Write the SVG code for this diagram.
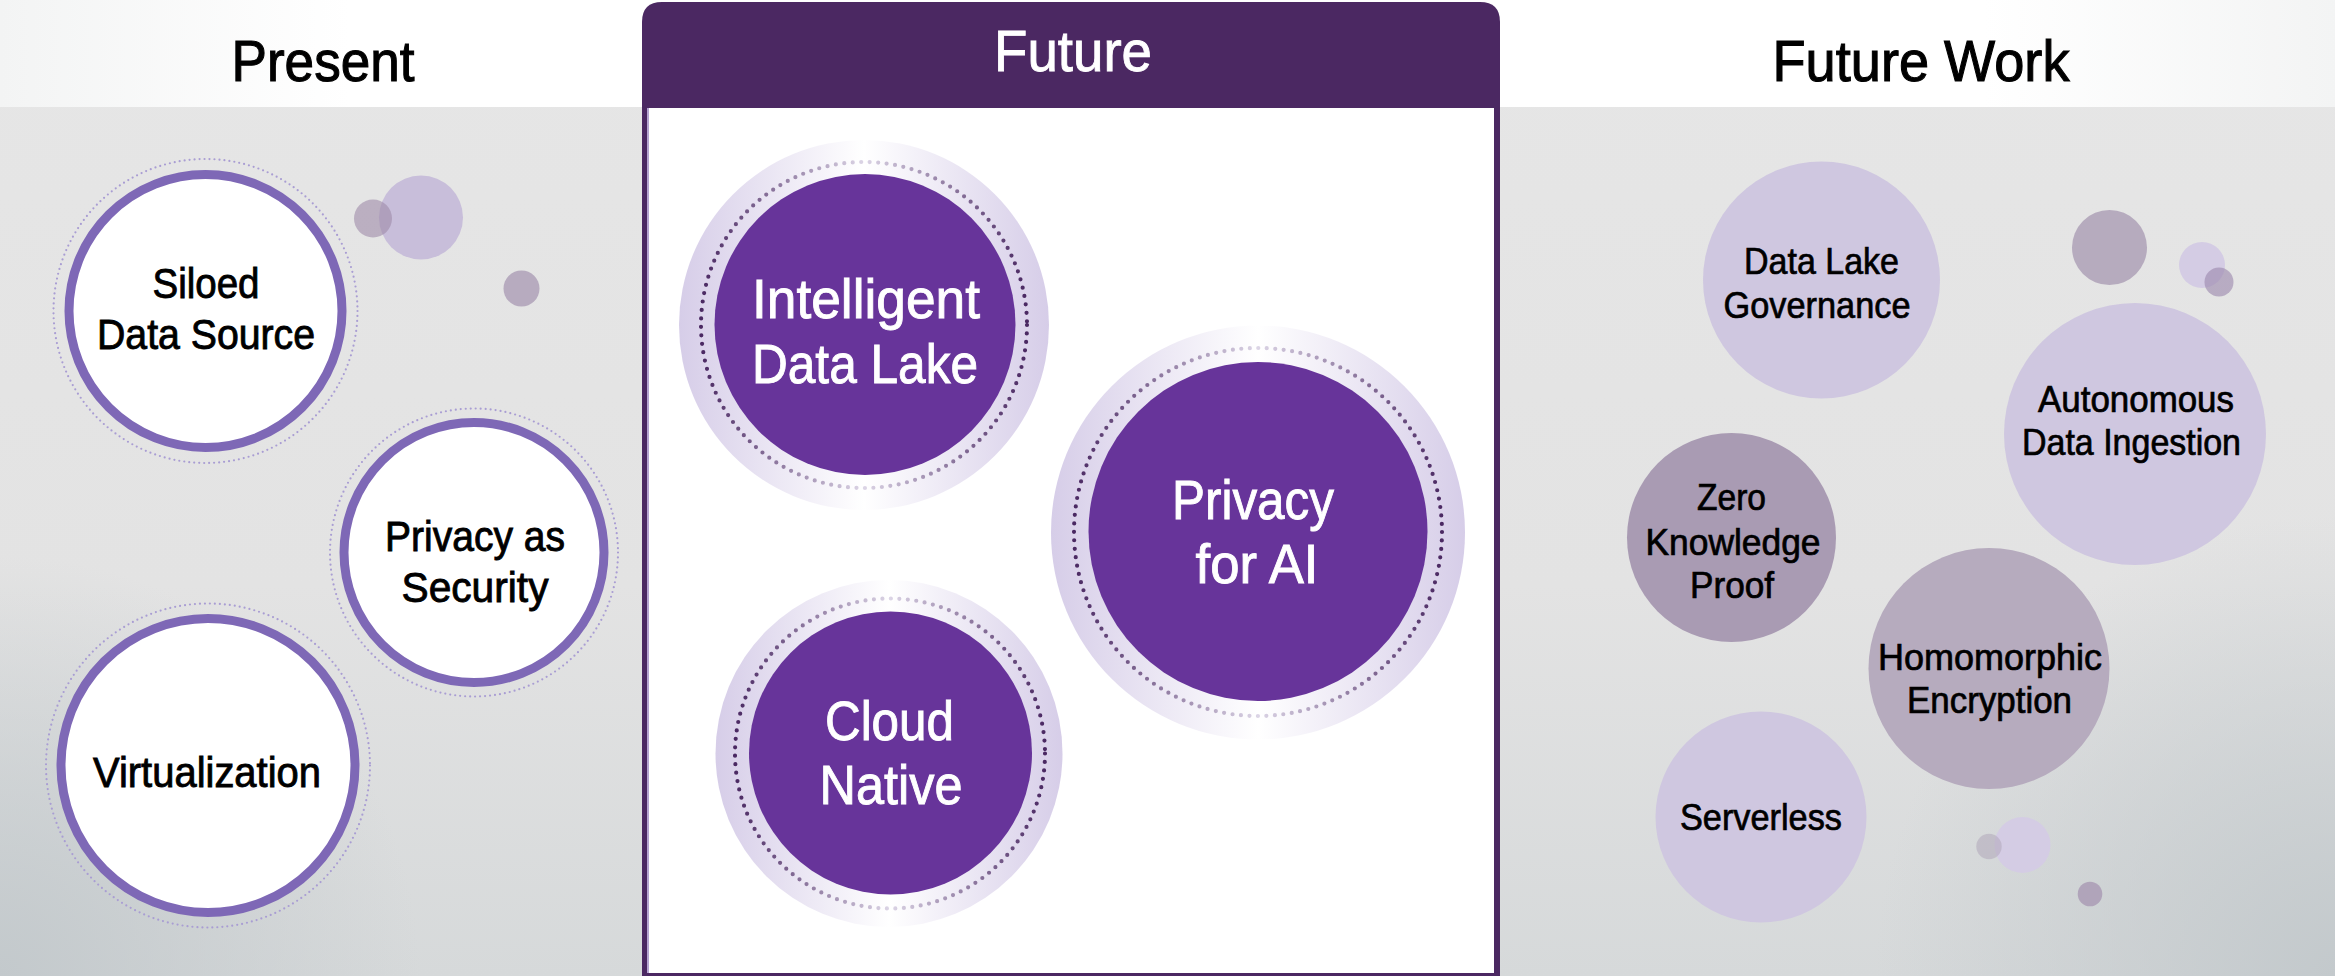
<svg xmlns="http://www.w3.org/2000/svg" width="2335" height="976" viewBox="0 0 2335 976">
<defs>
<linearGradient id="bg" x1="0" y1="0" x2="0" y2="1">
<stop offset="0" stop-color="#E6E6E6"/>
<stop offset="0.6" stop-color="#E3E3E3"/>
<stop offset="1" stop-color="#D6D9DA"/>
</linearGradient>
<radialGradient id="cornerL" cx="0" cy="976" r="420" gradientUnits="userSpaceOnUse">
<stop offset="0" stop-color="#C3C9CC" stop-opacity="1"/>
<stop offset="1" stop-color="#C3C9CC" stop-opacity="0"/>
</radialGradient>
<radialGradient id="cornerR" cx="2335" cy="976" r="460" gradientUnits="userSpaceOnUse">
<stop offset="0" stop-color="#C3C9CC" stop-opacity="1"/>
<stop offset="1" stop-color="#C3C9CC" stop-opacity="0"/>
</radialGradient>
<linearGradient id="hdr" x1="0" y1="0" x2="1" y2="0">
<stop offset="0" stop-color="#F3F4F4"/>
<stop offset="0.15" stop-color="#FFFFFF"/>
<stop offset="0.85" stop-color="#FFFFFF"/>
<stop offset="1" stop-color="#F3F4F4"/>
</linearGradient>
<linearGradient id="ring" x1="0" y1="0" x2="1" y2="0">
<stop offset="0" stop-color="#D6CDE8"/>
<stop offset="0.5" stop-color="#FFFFFF"/>
<stop offset="1" stop-color="#D6CDE8"/>
</linearGradient>
<linearGradient id="dots" x1="0" y1="0" x2="1" y2="0">
<stop offset="0" stop-color="#4A2862"/>
<stop offset="0.5" stop-color="#DCD5E6"/>
<stop offset="1" stop-color="#4A2862"/>
</linearGradient>
<style>
.t{font-family:"Liberation Sans",Arial,sans-serif;text-anchor:middle}
.title{font-size:58px;fill:#000;stroke:#000;stroke-width:1.1}
.ftitle{font-size:58px;fill:#FFF;stroke:#FFF;stroke-width:0.9}
.pl{font-size:43px;fill:#000;stroke:#000;stroke-width:0.9}
.fl{font-size:55px;fill:#FFF;stroke:#FFF;stroke-width:0.9}
.fw{font-size:36px;fill:#000;stroke:#000;stroke-width:0.7}
.pring{fill:#FFF;stroke:#7E68B6;stroke-width:9}
.pdot{fill:none;stroke:#A99DD3;stroke-width:2.2;stroke-dasharray:0 5;stroke-linecap:round}
.fring{fill:url(#ring)}
.fdot{fill:none;stroke:url(#dots);stroke-width:4.2;stroke-dasharray:0 8.5;stroke-linecap:round}
.fdisk{fill:#67349A}
.lite{fill:#CFC7E0}
.dark{fill:#A99BB3}
.mid{fill:#B6ABBE}
</style>
</defs>
<rect x="0" y="0" width="2335" height="976" fill="url(#bg)"/>
<rect x="0" y="0" width="2335" height="976" fill="url(#cornerL)"/>
<rect x="0" y="0" width="2335" height="976" fill="url(#cornerR)"/>
<rect x="0" y="0" width="2335" height="107" fill="url(#hdr)"/>
<text class="t title" x="323" y="81" textLength="183" lengthAdjust="spacingAndGlyphs">Present</text>
<text class="t title" x="1921" y="81" textLength="297" lengthAdjust="spacingAndGlyphs">Future Work</text>

<g id="panel-future">
<path d="M642,22 Q642,2 662,2 L1480,2 Q1500,2 1500,22 L1500,976 L642,976 Z" fill="#4B2862"/>
<rect x="647" y="108" width="847" height="865" fill="#FFFFFF"/>
<line x1="648" y1="108" x2="648" y2="973" stroke="#9C85C2" stroke-width="1.5"/>
<text class="t ftitle" x="1073" y="71" textLength="158" lengthAdjust="spacingAndGlyphs">Future</text>
</g>

<g id="present-bubbles">
<circle cx="421" cy="217.5" r="42" fill="#C8BEDA"/>
<circle cx="373" cy="218.5" r="19" fill="#9E8AA8" fill-opacity="0.6"/>
<circle cx="521.5" cy="288.5" r="18" fill="#B7ABBF"/>
</g>

<g id="node-siloed">
<circle class="pdot" cx="205.5" cy="311" r="152"/>
<circle class="pring" cx="205.5" cy="311" r="136.5"/>
<text class="t pl" x="206" y="298" textLength="107" lengthAdjust="spacingAndGlyphs">Siloed</text>
<text class="t pl" x="206" y="349" textLength="218" lengthAdjust="spacingAndGlyphs">Data Source</text>
</g>
<g id="node-privacy-security">
<circle class="pdot" cx="474" cy="552.5" r="144"/>
<circle class="pring" cx="474" cy="552.5" r="130"/>
<text class="t pl" x="475" y="551" textLength="180" lengthAdjust="spacingAndGlyphs">Privacy as</text>
<text class="t pl" x="475" y="602" textLength="147" lengthAdjust="spacingAndGlyphs">Security</text>
</g>
<g id="node-virtualization">
<circle class="pdot" cx="208" cy="765.5" r="162"/>
<circle class="pring" cx="208" cy="765.5" r="147"/>
<text class="t pl" x="207" y="787" textLength="228" lengthAdjust="spacingAndGlyphs">Virtualization</text>
</g>

<g id="node-intelligent-data-lake">
<circle class="fring" cx="864" cy="325" r="185"/>
<circle class="fdot" cx="864" cy="325" r="163"/>
<circle class="fdisk" cx="865" cy="324.5" r="150.5"/>
<text class="t fl" x="866" y="318" textLength="228" lengthAdjust="spacingAndGlyphs">Intelligent</text>
<text class="t fl" x="865" y="383" textLength="226" lengthAdjust="spacingAndGlyphs">Data Lake</text>
</g>
<g id="node-privacy-ai">
<circle class="fring" cx="1258" cy="532.5" r="207"/>
<circle class="fdot" cx="1258" cy="532" r="184"/>
<circle class="fdisk" cx="1258" cy="531.5" r="169.5"/>
<text class="t fl" x="1253" y="519" textLength="162" lengthAdjust="spacingAndGlyphs">Privacy</text>
<text class="t fl" x="1257" y="583" textLength="123" lengthAdjust="spacingAndGlyphs">for AI</text>
</g>
<g id="node-cloud-native">
<circle class="fring" cx="889" cy="753.5" r="173.5"/>
<circle class="fdot" cx="890" cy="753.5" r="155"/>
<circle class="fdisk" cx="890.5" cy="753" r="141.5"/>
<text class="t fl" x="889.5" y="740" textLength="129" lengthAdjust="spacingAndGlyphs">Cloud</text>
<text class="t fl" x="891" y="804" textLength="143" lengthAdjust="spacingAndGlyphs">Native</text>
</g>

<g id="futurework-bubbles">
<circle cx="2109.5" cy="247.5" r="37.5" fill="#B6ABBE"/>
<circle cx="2202" cy="265" r="23" fill="#D4CCE4"/>
<circle cx="2219" cy="282" r="14.5" fill="#9A85AC" fill-opacity="0.6"/>
<circle cx="2022.5" cy="845" r="28" fill="#D4CCE4"/>
<circle cx="1989" cy="846.5" r="12.7" fill="#B0A8BA" fill-opacity="0.55"/>
<circle cx="2090" cy="894" r="12.3" fill="#B0A4BA"/>
</g>

<g id="node-data-lake-governance">
<circle class="lite" cx="1821.5" cy="280" r="118.5"/>
<text class="t fw" x="1821.5" y="274" textLength="155" lengthAdjust="spacingAndGlyphs">Data Lake</text>
<text class="t fw" x="1817" y="318" textLength="187" lengthAdjust="spacingAndGlyphs">Governance</text>
</g>
<g id="node-autonomous">
<circle class="lite" cx="2135" cy="434" r="131"/>
<text class="t fw" x="2136" y="412" textLength="196" lengthAdjust="spacingAndGlyphs">Autonomous</text>
<text class="t fw" x="2131.5" y="455" textLength="219" lengthAdjust="spacingAndGlyphs">Data Ingestion</text>
</g>
<g id="node-zkp">
<circle class="dark" cx="1731.5" cy="537.5" r="104.5"/>
<text class="t fw" x="1731.5" y="510" textLength="69" lengthAdjust="spacingAndGlyphs">Zero</text>
<text class="t fw" x="1733" y="555" textLength="175" lengthAdjust="spacingAndGlyphs">Knowledge</text>
<text class="t fw" x="1732" y="598" textLength="84" lengthAdjust="spacingAndGlyphs">Proof</text>
</g>
<g id="node-homomorphic">
<circle class="mid" cx="1989" cy="668.5" r="120.5"/>
<text class="t fw" x="1990" y="670" textLength="224" lengthAdjust="spacingAndGlyphs">Homomorphic</text>
<text class="t fw" x="1989.5" y="713" textLength="165" lengthAdjust="spacingAndGlyphs">Encryption</text>
</g>
<g id="node-serverless">
<circle class="lite" cx="1761" cy="817" r="105.5"/>
<text class="t fw" x="1761" y="830" textLength="162" lengthAdjust="spacingAndGlyphs">Serverless</text>
</g>
<g id="connectors"></g>
</svg>
